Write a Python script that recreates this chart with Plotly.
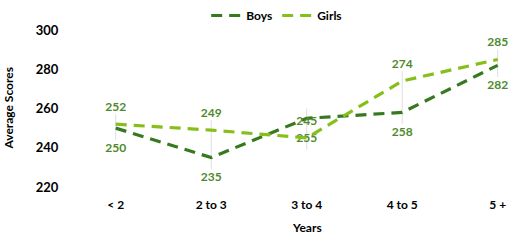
import plotly.graph_objects as go

categories = ["< 2", "2 to 3", "3 to 4", "4 to 5", "5 +"]
boys = [250, 235, 255, 258, 282]
girls = [252, 249, 245, 274, 285]
y_ticks = [220, 240, 260, 280, 300]

BOYS_C = "#37791f"
GIRLS_C = "#86bf1a"
LABEL_C = "#4f8a2b"
FONT = "Lato"

fig = go.Figure()

# leader lines between labels
for i, c in enumerate(categories):
    lo = min(boys[i], girls[i])
    hi = max(boys[i], girls[i])
    fig.add_shape(type="line", xref="x", yref="y", x0=i, x1=i,
                  y0=lo - 6, y1=hi + 5, line=dict(color="#dedede", width=1), layer="below")

fig.add_trace(go.Scatter(
    x=categories, y=boys, name="Boys", mode="lines+markers+text",
    line=dict(color=BOYS_C, width=3.2, dash="11px,7px"),
    marker=dict(size=22, color="rgba(0,0,0,0)"),
    text=[str(v) for v in boys], textposition="bottom center",
    textfont=dict(family=FONT, size=12, color=LABEL_C, weight="bold"),
    cliponaxis=False,
))
fig.add_trace(go.Scatter(
    x=categories, y=girls, name="Girls", mode="lines+markers+text",
    line=dict(color=GIRLS_C, width=3.2, dash="11px,7px"),
    marker=dict(size=15, color="rgba(0,0,0,0)"),
    text=[str(v) for v in girls], textposition="top center",
    textfont=dict(family=FONT, size=12, color=LABEL_C, weight="bold"),
    cliponaxis=False,
))

fig.update_layout(
    width=512, height=242,
    margin=dict(l=68, r=0, t=30, b=55),
    paper_bgcolor="white", plot_bgcolor="white",
    font=dict(family=FONT, size=12, color="#000000"),
    showlegend=True,
    legend=dict(orientation="h", x=0.47, xanchor="center", y=1.0, yanchor="bottom",
                font=dict(family=FONT, size=12, weight="bold"), itemwidth=30,
                bgcolor="rgba(0,0,0,0)"),
    xaxis=dict(type="category", range=[-0.5, 4.15], showgrid=False, zeroline=False,
               showline=False, ticks="outside", ticklen=7, tickcolor="rgba(0,0,0,0)",
               tickfont=dict(family=FONT, size=12, weight="bold")),
    yaxis=dict(range=[220, 300], tickvals=y_ticks, showgrid=False, zeroline=False,
               showline=False, ticks="outside", ticklen=6, tickcolor="rgba(0,0,0,0)",
               tickfont=dict(family=FONT, size=13, weight="bold")),
    annotations=[
        dict(text="Average Scores", textangle=-90, xref="paper", yref="paper",
             x=-0.135, y=0.5, xanchor="center", yanchor="middle", showarrow=False,
             font=dict(family=FONT, size=12, weight="bold")),
        dict(text="Years", xref="x", yref="paper", x=2, y=-0.26,
             xanchor="center", yanchor="middle", showarrow=False,
             font=dict(family=FONT, size=12, weight="bold")),
    ],
)

fig.write_html("out.html")
